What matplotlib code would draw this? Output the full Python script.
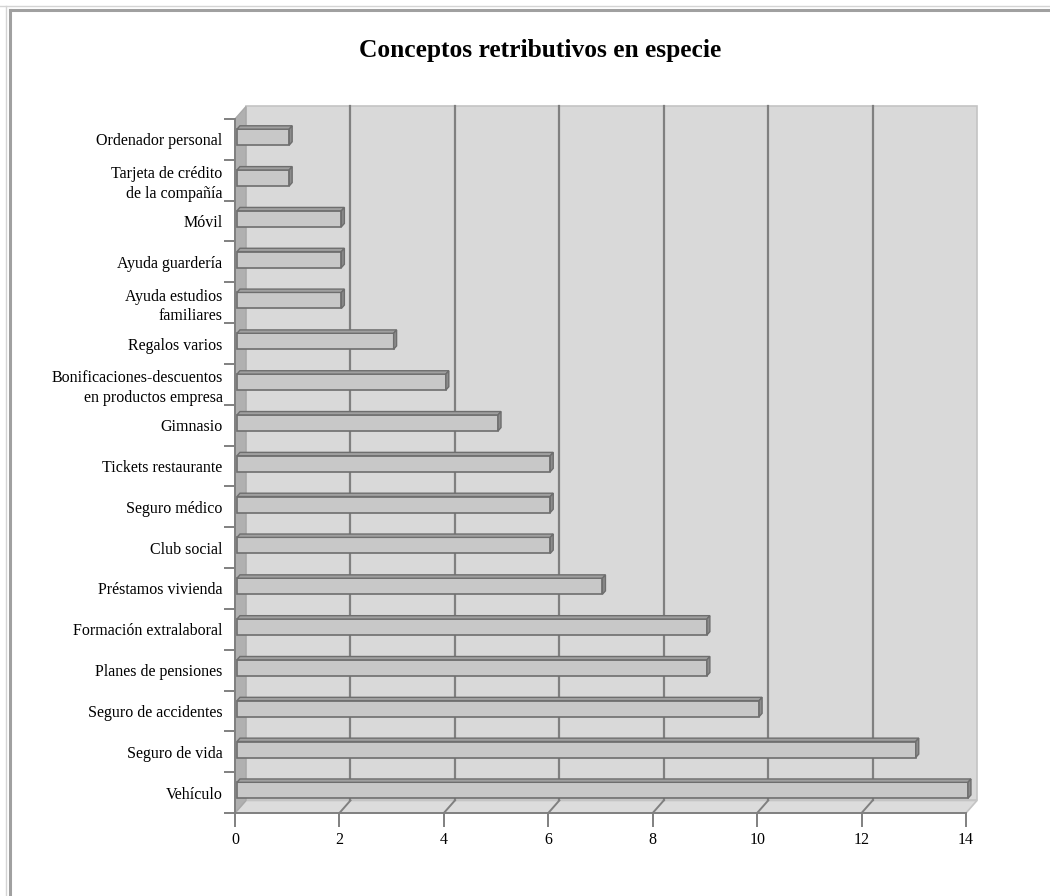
import matplotlib
matplotlib.use("Agg")
import matplotlib.pyplot as plt
from matplotlib.lines import Line2D
from matplotlib.patches import Polygon
import numpy as np

plt.rcParams['font.family'] = ['Liberation Serif', 'DejaVu Serif']

# data (bottom to top)
categories = ["Vehículo", "Seguro de vida", "Seguro de accidentes",
              "Planes de pensiones", "Formación extralaboral",
              "Préstamos vivienda", "Club social", "Seguro médico",
              "Tickets restaurante", "Gimnasio",
              "Bonificaciones-descuentos\nen productos empresa",
              "Regalos varios", "Ayuda estudios\nfamiliares",
              "Ayuda guardería", "Móvil",
              "Tarjeta de crédito\nde la compañía", "Ordenador personal"]
values = [14, 13, 10, 9, 9, 7, 6, 6, 6, 5, 4, 3, 2, 2, 2, 1, 1]
xticks = [0, 2, 4, 6, 8, 10, 12, 14]
xmax = 14

W, H = 1050, 896
fig = plt.figure(figsize=(W / 100, H / 100), dpi=100)

# axes in pixels, front plane: x=0 -> 235px, x=14 -> 966px ; y=-0.5 -> 813px, y=16.5 -> 119px
x0px, x1px = 235, 966
yb_px, yt_px = 813, 119
n = len(categories)
sx = (x1px - x0px) / xmax
sy = (yb_px - yt_px) / n
L, R, T, B = 220, 1000, 90, 830
ax = fig.add_axes([L / W, 1 - B / H, (R - L) / W, (B - T) / H])
ax.set_xlim((L - x0px) / sx, (R - x0px) / sx)
ax.set_ylim(-0.5 - (B - yb_px) / sy, -0.5 + (yb_px - T) / sy)

DX = 11 / sx   # depth offset
DY = 12.5 / sy
ybot, ytop = -0.5, n - 0.5

wall_c = '#d9d9d9'
side_c = '#b0b0b0'
grid_c = '#808080'
edge_l = '#c4c4c4'

# back wall, floor, side wall
ax.add_patch(Polygon([(DX, ybot + DY), (xmax + DX, ybot + DY), (xmax + DX, ytop + DY), (DX, ytop + DY)],
                     closed=True, fc=wall_c, ec=edge_l, lw=1.2, zorder=0))
ax.add_patch(Polygon([(0, ybot), (xmax, ybot), (xmax + DX, ybot + DY), (DX, ybot + DY)],
                     closed=True, fc='#dcdcdc', ec=edge_l, lw=1.2, zorder=0.5))
ax.add_patch(Polygon([(0, ybot), (DX, ybot + DY), (DX, ytop + DY), (0, ytop)],
                     closed=True, fc=side_c, ec='#a8a8a8', lw=1.0, zorder=0.6))

for xv in xticks[1:-1]:
    ax.plot([xv + DX, xv + DX], [ybot + DY, ytop + DY], color=grid_c, lw=1.6, zorder=1)
    ax.plot([xv, xv + DX], [ybot, ybot + DY], color=grid_c, lw=1.4, zorder=1)

# bars
ypos = np.arange(n)
f0, f1 = 0.18, 0.45
bh = 16 / sy
left = f0 * DX
yc = ypos + f0 * DY
ax.barh(yc, values, height=bh, left=left, color='#c8c8c8', edgecolor='#6e6e6e', lw=1.2, zorder=3)
d = f1 - f0
for y, v in zip(yc, values):
    top = [(left, y + bh / 2), (left + v, y + bh / 2),
           (left + v + d * DX, y + bh / 2 + d * DY), (left + d * DX, y + bh / 2 + d * DY)]
    side = [(left + v, y - bh / 2), (left + v, y + bh / 2),
            (left + v + d * DX, y + bh / 2 + d * DY), (left + v + d * DX, y - bh / 2 + d * DY)]
    ax.add_patch(Polygon(top, closed=True, fc='#a0a0a0', ec='#6e6e6e', lw=1.0, zorder=3))
    ax.add_patch(Polygon(side, closed=True, fc='#8c8c8c', ec='#6e6e6e', lw=1.0, zorder=3))

# axes, ticks
for s in ['top', 'right']:
    ax.spines[s].set_visible(False)
ax.spines['bottom'].set_position(('data', ybot))
ax.spines['left'].set_position(('data', 0))
ax.spines['bottom'].set_bounds(0, xmax)
ax.spines['left'].set_bounds(ybot, ytop)
ax.spines['bottom'].set_color(grid_c)
ax.spines['left'].set_color(grid_c)
ax.spines['bottom'].set_linewidth(1.4)
ax.spines['left'].set_linewidth(1.4)

ax.set_xticks(xticks)
ax.set_xticklabels([str(t) for t in xticks])
ax.tick_params(axis='x', direction='out', length=10, width=1.4, color=grid_c,
               labelsize=11.5, pad=4, labelcolor='black')

ax.set_yticks(np.arange(n + 1) - 0.5)
ax.set_yticklabels([])
ax.set_yticks(ypos, minor=True)
ax.set_yticklabels(categories, minor=True, linespacing=1.3)
ax.tick_params(axis='y', which='major', direction='out', length=8, width=1.4, color=grid_c)
ax.tick_params(axis='y', which='minor', length=0, pad=9, labelsize=11.5)
ax.patch.set_visible(False)

fig.text(540 / W, 1 - 50 / H, "Conceptos retributivos en especie", ha='center', va='center',
         fontsize=18.4, fontweight='bold')

# page frame (top and left)
fig.add_artist(Line2D([0, 1], [1 - 6 / H, 1 - 6 / H], transform=fig.transFigure, color='#d4d4d4', lw=1.0))
fig.add_artist(Line2D([6 / W, 6 / W], [0, 1 - 6 / H], transform=fig.transFigure, color='#d4d4d4', lw=1.0))
fig.add_artist(Line2D([10 / W, 1], [1 - 10.5 / H, 1 - 10.5 / H], transform=fig.transFigure, color='#a0a0a0', lw=2.2))
fig.add_artist(Line2D([10 / W, 10 / W], [0, 1 - 10.5 / H], transform=fig.transFigure, color='#a0a0a0', lw=2.2))

fig.savefig("out.png", dpi=100)
